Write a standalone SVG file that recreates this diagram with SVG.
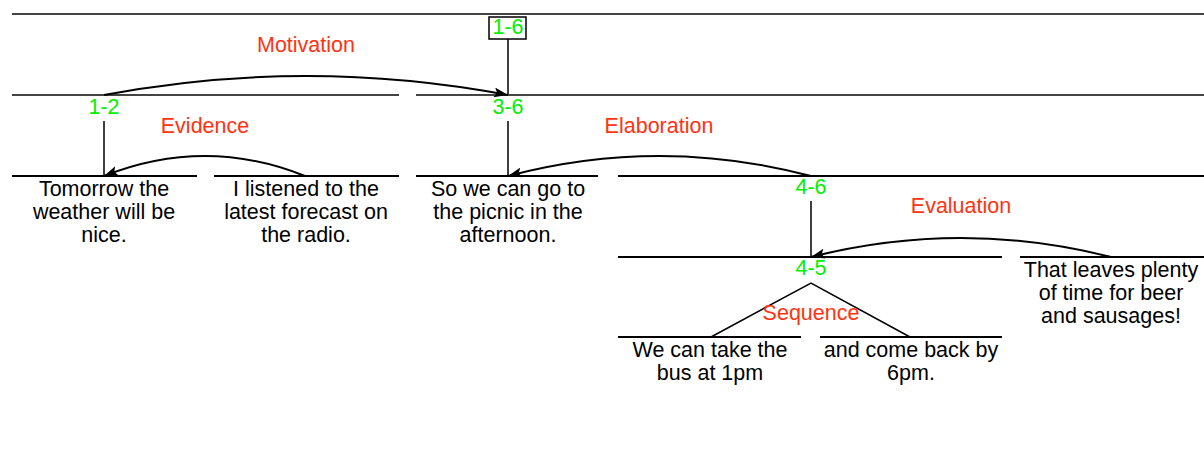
<svg xmlns="http://www.w3.org/2000/svg" width="1204" height="457" viewBox="0 0 1204 457">
<defs>
<marker id="ah" viewBox="0 0 14 10" refX="14" refY="5" markerWidth="14" markerHeight="10" markerUnits="userSpaceOnUse" orient="auto">
<path d="M0,0 L14,5 L0,10 L3,5 Z" fill="#000"/>
</marker>
<style>
.seg{stroke:#000;stroke-width:2;fill:none}
.top{stroke:#444;stroke-width:2;fill:none}
.v{stroke:#000;stroke-width:1.5;fill:none}
.arc{stroke:#000;stroke-width:2;fill:none;marker-end:url(#ah)}
.t{font-family:"Liberation Sans",Arial,sans-serif;font-size:21.5px;fill:#000;text-anchor:middle}
.g{font-family:"Liberation Sans",Arial,sans-serif;font-size:21.5px;fill:#00f000;text-anchor:middle}
.r{font-family:"Liberation Sans",Arial,sans-serif;font-size:21.5px;fill:#ff3311;text-anchor:middle}
</style>
</defs>
<rect width="1204" height="457" fill="#fff"/>
<g id="span-1-6">
<line class="top" x1="12" y1="14" x2="1204" y2="14"/>
<rect x="489" y="17" width="37" height="22" fill="#fff" stroke="#000" stroke-width="1.5"/>
<text class="g" x="508" y="34">1-6</text>
<line class="v" x1="508" y1="39" x2="508" y2="95"/>
</g>
<g id="span-1-2">
<line class="top" x1="12" y1="95" x2="399" y2="95"/>
<text class="g" x="104" y="114">1-2</text>
<line class="v" x1="104" y1="121" x2="104" y2="176"/>
</g>
<g id="span-3-6">
<line class="top" x1="416" y1="95" x2="1204" y2="95"/>
<text class="g" x="508" y="114">3-6</text>
<line class="v" x1="508" y1="121" x2="508" y2="176"/>
</g>
<g id="node-1">
<line class="seg" x1="12" y1="176" x2="197" y2="176"/>
<text class="t" x="104" y="196">Tomorrow the</text>
<text class="t" x="104" y="219">weather will be</text>
<text class="t" x="104" y="242">nice.</text>
</g>
<g id="node-2">
<line class="seg" x1="214" y1="176" x2="399" y2="176"/>
<text class="t" x="306" y="196">I listened to the</text>
<text class="t" x="306" y="219">latest forecast on</text>
<text class="t" x="306" y="242">the radio.</text>
</g>
<g id="node-3">
<line class="seg" x1="416" y1="176" x2="598" y2="176"/>
<text class="t" x="508" y="196">So we can go to</text>
<text class="t" x="508" y="219">the picnic in the</text>
<text class="t" x="508" y="242">afternoon.</text>
</g>
<g id="span-4-6">
<line class="seg" x1="618" y1="176" x2="1204" y2="176"/>
<text class="g" x="811" y="194">4-6</text>
<line class="v" x1="811" y1="201" x2="811" y2="257"/>
</g>
<g id="span-4-5">
<line class="seg" x1="618" y1="257" x2="1002" y2="257"/>
<text class="g" x="811" y="275">4-5</text>
<path class="v" d="M711,337 L811,283 L910,337"/>
</g>
<g id="node-4">
<line class="seg" x1="618" y1="337" x2="801" y2="337"/>
<text class="t" x="710" y="357">We can take the</text>
<text class="t" x="710" y="380">bus at 1pm</text>
</g>
<g id="node-5">
<line class="seg" x1="820" y1="337" x2="1002" y2="337"/>
<text class="t" x="911" y="357">and come back by</text>
<text class="t" x="911" y="380">6pm.</text>
</g>
<g id="node-6">
<line class="seg" x1="1020" y1="257" x2="1204" y2="257"/>
<text class="t" x="1111" y="277">That leaves plenty</text>
<text class="t" x="1111" y="300">of time for beer</text>
<text class="t" x="1111" y="323">and sausages!</text>
</g>
<g id="connectors">
<path class="arc" d="M104,95 Q306,57 508,95"/>
<text class="r" x="306" y="52">Motivation</text>
<path class="arc" d="M305,176 Q205,136 104,176"/>
<text class="r" x="205" y="133">Evidence</text>
<path class="arc" d="M811,176 Q659,136 508,176"/>
<text class="r" x="659" y="133">Elaboration</text>
<path class="arc" d="M1111,257 Q961,219 811,257"/>
<text class="r" x="961" y="213">Evaluation</text>
<text class="r" x="811" y="320">Sequence</text>
</g>
</svg>
